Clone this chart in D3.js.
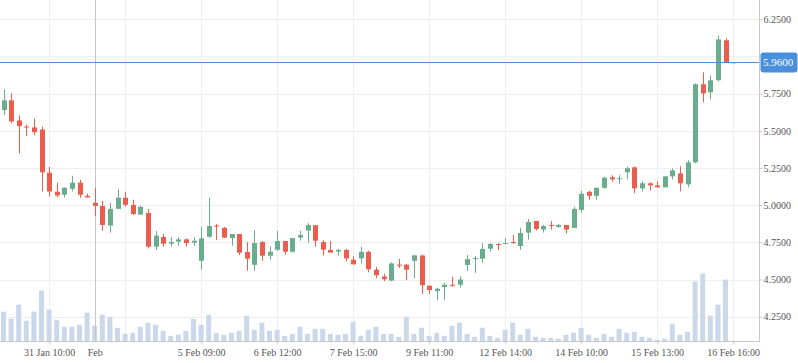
<!DOCTYPE html>
<html>
<head>
<meta charset="utf-8">
<script src="https://cdn.jsdelivr.net/npm/d3@7"></script>
<style>
  body { margin: 0; background: #fff; }
  svg { display: block; }
  .axis text { font-family: "Liberation Serif", "Times New Roman", serif; font-size: 10px; fill: #555; }
  .axis line { stroke: #c8c8c8; }
</style>
</head>
<body>
<figure id="chart" style="margin:0"></figure>
<script>
// candle data (one entry per bar)
const open = [5.640, 5.705, 5.570, 5.529, 5.523, 5.509, 5.218, 5.090, 5.070, 5.110,
  5.151, 5.063, 5.016, 4.995, 4.863, 4.975, 5.050, 5.002, 4.937, 4.948,
  4.721, 4.786, 4.741, 4.755, 4.770, 4.748, 4.626, 4.788, 4.863, 4.847,
  4.779, 4.806, 4.685, 4.599, 4.752, 4.660, 4.700, 4.759, 4.687, 4.782,
  4.829, 4.865, 4.752, 4.699, 4.688, 4.699, 4.633, 4.642, 4.686, 4.566,
  4.520, 4.493, 4.600, 4.600, 4.626, 4.662, 4.458, 4.423, 4.449, 4.465,
  4.465, 4.597, 4.637, 4.640, 4.707, 4.739, 4.741, 4.752, 4.725, 4.815,
  4.894, 4.836, 4.867, 4.854, 4.867, 4.847, 4.968, 5.090, 5.063, 5.117,
  5.187, 5.176, 5.221, 5.254, 5.113, 5.147, 5.133, 5.120, 5.194, 5.214,
  5.140, 5.288, 5.813, 5.759, 5.840, 6.109, 5.961];
const high = [5.779, 5.752, 5.604, 5.543, 5.583, 5.529, 5.257, 5.151, 5.119, 5.198,
  5.171, 5.077, 5.117, 5.029, 5.016, 5.110, 5.090, 5.036, 4.995, 4.975,
  4.827, 4.806, 4.786, 4.784, 4.777, 4.786, 4.854, 5.050, 4.874, 4.854,
  4.806, 4.806, 4.752, 4.833, 4.759, 4.723, 4.827, 4.759, 4.779, 4.827,
  4.878, 4.865, 4.765, 4.759, 4.706, 4.706, 4.655, 4.719, 4.695, 4.584,
  4.538, 4.615, 4.639, 4.606, 4.666, 4.666, 4.462, 4.445, 4.478, 4.518,
  4.522, 4.664, 4.658, 4.745, 4.745, 4.745, 4.779, 4.800, 4.847, 4.908,
  4.894, 4.867, 4.894, 4.874, 4.867, 4.989, 5.097, 5.097, 5.117, 5.191,
  5.201, 5.201, 5.261, 5.261, 5.160, 5.154, 5.160, 5.194, 5.248, 5.261,
  5.301, 5.820, 5.893, 5.873, 6.142, 6.122, 5.961];
const low = [5.606, 5.552, 5.347, 5.464, 5.471, 5.092, 5.059, 5.052, 5.052, 5.092,
  5.050, 5.052, 4.928, 4.829, 4.815, 4.975, 4.991, 4.934, 4.935, 4.709,
  4.698, 4.721, 4.721, 4.727, 4.721, 4.727, 4.565, 4.782, 4.766, 4.779,
  4.727, 4.664, 4.559, 4.559, 4.626, 4.633, 4.694, 4.667, 4.680, 4.761,
  4.748, 4.721, 4.662, 4.681, 4.662, 4.622, 4.602, 4.608, 4.549, 4.509,
  4.489, 4.489, 4.577, 4.496, 4.507, 4.403, 4.403, 4.361, 4.361, 4.451,
  4.445, 4.559, 4.545, 4.613, 4.687, 4.698, 4.739, 4.739, 4.700, 4.768,
  4.829, 4.815, 4.836, 4.847, 4.809, 4.847, 4.950, 5.036, 5.036, 5.110,
  5.160, 5.140, 5.174, 5.080, 5.093, 5.100, 5.120, 5.120, 5.174, 5.093,
  5.120, 5.281, 5.692, 5.712, 5.833, 5.954, 5.954];
const close = [5.705, 5.563, 5.532, 5.525, 5.491, 5.221, 5.092, 5.065, 5.117, 5.151,
  5.070, 5.052, 4.995, 4.867, 4.975, 5.050, 5.002, 4.941, 4.989, 4.721,
  4.795, 4.741, 4.752, 4.770, 4.745, 4.761, 4.777, 4.860, 4.858, 4.782,
  4.806, 4.680, 4.640, 4.745, 4.660, 4.687, 4.759, 4.687, 4.779, 4.800,
  4.867, 4.761, 4.701, 4.681, 4.699, 4.642, 4.602, 4.686, 4.569, 4.529,
  4.502, 4.608, 4.593, 4.566, 4.662, 4.462, 4.429, 4.438, 4.465, 4.458,
  4.500, 4.637, 4.644, 4.705, 4.739, 4.732, 4.745, 4.745, 4.813, 4.887,
  4.840, 4.860, 4.860, 4.867, 4.836, 4.975, 5.077, 5.063, 5.117, 5.185,
  5.174, 5.181, 5.248, 5.113, 5.147, 5.133, 5.120, 5.194, 5.234, 5.147,
  5.288, 5.813, 5.752, 5.840, 6.115, 5.961, 5.956];
const volume = [89, 68, 110, 62, 89, 152, 95, 65, 44, 44,
  50, 86, 47, 80, 74, 41, 23, 26, 44, 56,
  50, 32, 17, 20, 32, 68, 50, 80, 26, 20,
  26, 32, 77, 35, 56, 32, 35, 17, 23, 44,
  23, 38, 38, 23, 20, 23, 59, 17, 35, 44,
  23, 23, 14, 74, 23, 41, 17, 26, 17, 47,
  56, 23, 14, 41, 17, 11, 35, 56, 20, 38,
  14, 11, 11, 8, 20, 26, 41, 20, 11, 23,
  14, 38, 26, 29, 14, 11, 5, 8, 53, 20,
  29, 179, 203, 77, 110, 185, 2];

// axis labels
const priceTicks = [4.25, 4.5, 4.75, 5.0, 5.25, 5.5, 5.75, 6.0, 6.25];
const gridIdx = [6, 16, 26, 36, 46, 56, 66, 76, 86, 96];
const labelIdx = [6, 26, 36, 46, 56, 66, 76, 86, 96];
const labelText = ['31 Jan 10:00', '5 Feb 09:00', '6 Feb 12:00', '7 Feb 15:00', '9 Feb 11:00',
  '12 Feb 14:00', '14 Feb 10:00', '15 Feb 13:00', '16 Feb 16:00'];
const crossIdx = 12;
const crossText = 'Feb';
const lastPrice = 5.96;

const width = 798, height = 363;
const plotRight = 759.5, plotBottom = 341.5;
const up = '#6aad8e', down = '#eb5e4e';

const svg = d3.select('figure#chart')
  .append('svg')
  .attr('width', width)
  .attr('height', height);

const data = open.map((o, i) => ({ i, o, h: high[i], l: low[i], c: close[i], v: volume[i] }));

const x = d3.scaleLinear().domain([0, 96]).range([3.5, 733.1]);
const y = d3.scaleLinear().domain([4.25, 6.25]).range([316.7, 19.3]);
const yVol = d3.scaleLinear().domain([0, d3.max(volume)]).range([plotBottom, plotBottom - 68]);

// grid
svg.append('g').selectAll('line')
  .data(priceTicks)
  .enter().append('line')
  .attr('x1', 0).attr('x2', plotRight)
  .attr('y1', d => Math.round(y(d)) + 0.5).attr('y2', d => Math.round(y(d)) + 0.5)
  .attr('stroke', '#eeeeee');

svg.append('g').selectAll('line')
  .data(gridIdx)
  .enter().append('line')
  .attr('x1', d => Math.round(x(d)) + 0.5).attr('x2', d => Math.round(x(d)) + 0.5)
  .attr('y1', 0).attr('y2', plotBottom)
  .attr('stroke', '#eeeeee');

// volume
svg.append('g').selectAll('rect')
  .data(data)
  .enter().append('rect')
  .attr('x', d => x(d.i) - 2.5)
  .attr('y', d => yVol(d.v))
  .attr('width', 5)
  .attr('height', d => plotBottom - yVol(d.v))
  .attr('fill', '#cbd8eb');

// crosshair vertical
svg.append('line')
  .attr('x1', Math.round(x(crossIdx)) + 0.5).attr('x2', Math.round(x(crossIdx)) + 0.5)
  .attr('y1', 0).attr('y2', plotBottom)
  .attr('stroke', '#c6c6c6');

// candles
const candles = svg.append('g').selectAll('g')
  .data(data)
  .enter().append('g');

candles.append('line')
  .attr('x1', d => Math.round(x(d.i)) + 0.5).attr('x2', d => Math.round(x(d.i)) + 0.5)
  .attr('y1', d => y(d.h)).attr('y2', d => y(d.l))
  .attr('stroke', d => d.c >= d.o ? up : down);

candles.append('rect')
  .attr('x', d => Math.round(x(d.i)) - 2)
  .attr('y', d => y(Math.max(d.o, d.c)))
  .attr('width', 5)
  .attr('height', d => Math.max(1, Math.abs(y(d.o) - y(d.c))))
  .attr('fill', d => d.c >= d.o ? up : down);

// last price line
svg.append('line')
  .attr('x1', 0).attr('x2', plotRight)
  .attr('y1', Math.round(y(lastPrice)) + 0.5).attr('y2', Math.round(y(lastPrice)) + 0.5)
  .attr('stroke', '#4a90e2');

// axes
svg.append('g')
  .attr('class', 'axis')
  .attr('transform', 'translate(' + plotRight + ',0)')
  .call(d3.axisRight(y).tickValues(priceTicks.filter(d => d !== 6.0)).tickFormat(d3.format('.4f')).tickSize(3).tickPadding(1))
  .call(g => g.select('.domain').remove());

svg.append('g')
  .attr('class', 'axis')
  .attr('transform', 'translate(0,' + plotBottom + ')')
  .call(d3.axisBottom(x).tickValues(labelIdx).tickFormat((d, k) => labelText[k]).tickSize(3).tickPadding(4))
  .call(g => g.select('.domain').remove());

svg.append('g')
  .attr('class', 'axis')
  .attr('transform', 'translate(0,' + plotBottom + ')')
  .call(d3.axisBottom(x).tickValues([crossIdx]).tickFormat(() => crossText).tickSize(0).tickPadding(7))
  .call(g => g.select('.domain').remove());

svg.append('line')
  .attr('x1', plotRight).attr('x2', plotRight)
  .attr('y1', 0).attr('y2', plotBottom)
  .attr('stroke', '#c8c8c8');
svg.append('line')
  .attr('x1', 0).attr('x2', plotRight)
  .attr('y1', plotBottom).attr('y2', plotBottom)
  .attr('stroke', '#c8c8c8');

// last price label
svg.append('rect')
  .attr('x', plotRight + 1)
  .attr('y', y(lastPrice) - 10)
  .attr('width', 37)
  .attr('height', 20)
  .attr('rx', 3)
  .attr('fill', '#4a8fdc');
svg.append('text')
  .attr('x', plotRight + 3.5)
  .attr('y', y(lastPrice))
  .attr('dy', '0.35em')
  .attr('fill', '#fff')
  .style('font-family', '"Liberation Serif", "Times New Roman", serif')
  .style('font-size', '11px')
  .text(d3.format('.4f')(lastPrice));
</script>
</body>
</html>
